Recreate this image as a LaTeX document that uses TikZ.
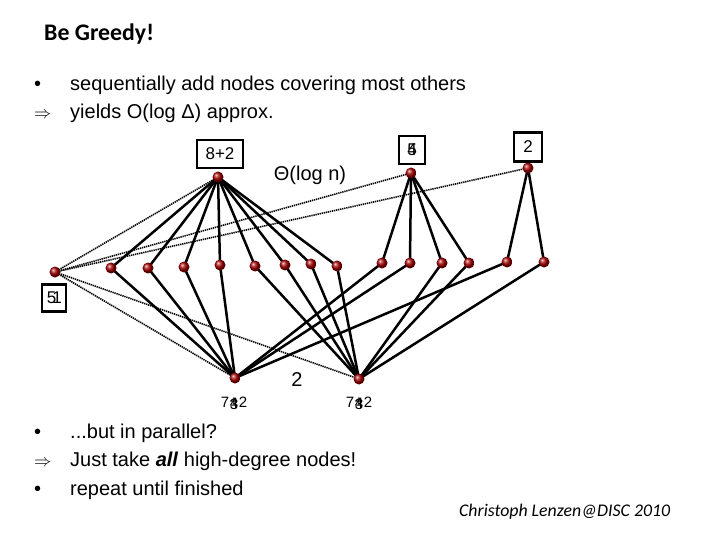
\documentclass[tikz,border=0pt]{standalone}
\usepackage{fontspec}
\setmainfont{Liberation Sans}
\newfontfamily\carlito{Carlito}
\usetikzlibrary{backgrounds}
\begin{document}
\begin{tikzpicture}[x=1pt,y=-1pt,
  v/.style={circle, inner sep=0pt, minimum size=11pt, ball color=red!65!black},
  e/.style={line width=2.5pt, black},
  d/.style={line width=1.6pt, black, dash pattern=on 1.3pt off 0.8pt},
  lbox/.style={draw, line width=2.8pt, inner sep=0pt, font=\fontsize{17}{17}\selectfont},
  lbl/.style={inner sep=0pt, font=\fontsize{15}{15}\selectfont},
  txt/.style={anchor=base west, inner sep=0pt, font=\fontsize{20}{24}\selectfont},
  bulletmk/.style={anchor=base west, inner sep=0pt}
]
\useasboundingbox (0,0) rectangle (720,540);

% title
\node[anchor=base west, inner sep=0pt, font=\carlito\bfseries\fontsize{23.8}{28}\selectfont] (title) at (44,41) {Be Greedy!};

% top bullets
\node[bulletmk, font=\fontsize{20}{24}\selectfont] (b1) at (34,91) {•};
\node[txt] (t1) at (70,91) {sequentially add nodes covering most others};
\node[bulletmk, font=\fontsize{17}{20}\selectfont] (b2) at (34,119) {$\Rightarrow$};
\node[txt] (t2) at (70,119) {yields O(log Δ) approx.};

% bottom bullets
\node[bulletmk, font=\fontsize{20}{24}\selectfont] (b3) at (34,438) {•};
\node[txt] (t3) at (70,438) {...but in parallel?};
\node[bulletmk, font=\fontsize{17}{20}\selectfont] (b4) at (34,466) {$\Rightarrow$};
\node[txt] (t4) at (70,466) {Just take \textbf{\textit{all}} high-degree nodes!};
\node[bulletmk, font=\fontsize{20}{24}\selectfont] (b5) at (34,495) {•};
\node[txt] (t5) at (70,495) {repeat until finished};

% footer
\node[anchor=base west, inner sep=0pt, font=\carlito\itshape\fontsize{17.8}{20}\selectfont] (foot) at (459,516) {Christoph Lenzen@DISC 2010};

% graph nodes
\node[v] (A) at (218,177) {};
\node[v] (B) at (411,173) {};
\node[v] (C) at (528,168) {};
\node[v] (m0) at (55,272) {};
\node[v] (m1) at (111,268) {};
\node[v] (m2) at (148,268) {};
\node[v] (m3) at (184,267) {};
\node[v] (m4) at (220,265) {};
\node[v] (m5) at (255,266) {};
\node[v] (m6) at (285,265) {};
\node[v] (m7) at (311,264) {};
\node[v] (m8) at (337,266) {};
\node[v] (m9) at (382,263) {};
\node[v] (m10) at (410,263) {};
\node[v] (m11) at (442,263) {};
\node[v] (m12) at (469,263) {};
\node[v] (m13) at (507,262) {};
\node[v] (m14) at (544,262) {};
\node[v] (D1) at (235,378) {};
\node[v] (D2) at (359,379) {};

\begin{scope}[on background layer]
  \foreach \m in {m1,m2,m3,m4,m5,m6,m7,m8} \draw[e] (A.center) -- (\m.center);
  \foreach \m in {m9,m10,m11,m12} \draw[e] (B.center) -- (\m.center);
  \foreach \m in {m13,m14} \draw[e] (C.center) -- (\m.center);
  \foreach \m in {m1,m2,m3,m4,m9,m10,m13} \draw[e] (D1.center) -- (\m.center);
  \foreach \m in {m5,m6,m7,m8,m11,m12,m14} \draw[e] (D2.center) -- (\m.center);
  \foreach \m in {A,B,C,D1,D2} \draw[d] (m0.center) -- (\m.center);
\end{scope}

% labels
\node[lbox, minimum width=46pt, minimum height=28pt] (lA) at (220,154) {8+2};
\node[lbox, minimum width=26pt, minimum height=28pt] (lB) at (412,150) {};
\node[inner sep=0pt, font=\fontsize{17}{17}\selectfont] (lB4) at (lB) {4};
\node[inner sep=0pt, font=\fontsize{17}{17}\selectfont] (lB5) at (lB) {5};
\node[lbox, minimum width=28pt, minimum height=29pt] (lC) at (528,147) {2};
\node[lbox, minimum width=24pt, minimum height=27pt] (l0) at (54,298) {};
\node[inner sep=0pt, font=\fontsize{17}{17}\selectfont] (l05) at (51.5,298) {5};
\node[inner sep=0pt, font=\fontsize{17}{17}\selectfont] (l01) at (57,298) {1};

\node[inner sep=0pt, font=\fontsize{20}{20}\selectfont] (theta) at (310,175) {Θ(log n)};
\node[inner sep=0pt, font=\fontsize{20}{20}\selectfont] (two) at (297,380) {2};

% overlapping bottom labels
\node[lbl] (d1a) at (225,402) {7};
\node[lbl] (d1b) at (234,402) {+};
\node[lbl] (d1c) at (234,403) {4};
\node[lbl] (d1d) at (234,404) {3};
\node[lbl] (d1e) at (243,402) {2};
\node[lbl] (d2a) at (350,402) {7};
\node[lbl] (d2b) at (359,402) {+};
\node[lbl] (d2c) at (359,403) {4};
\node[lbl] (d2d) at (359,404) {3};
\node[lbl] (d2e) at (368,402) {2};
\end{tikzpicture}
\end{document}
